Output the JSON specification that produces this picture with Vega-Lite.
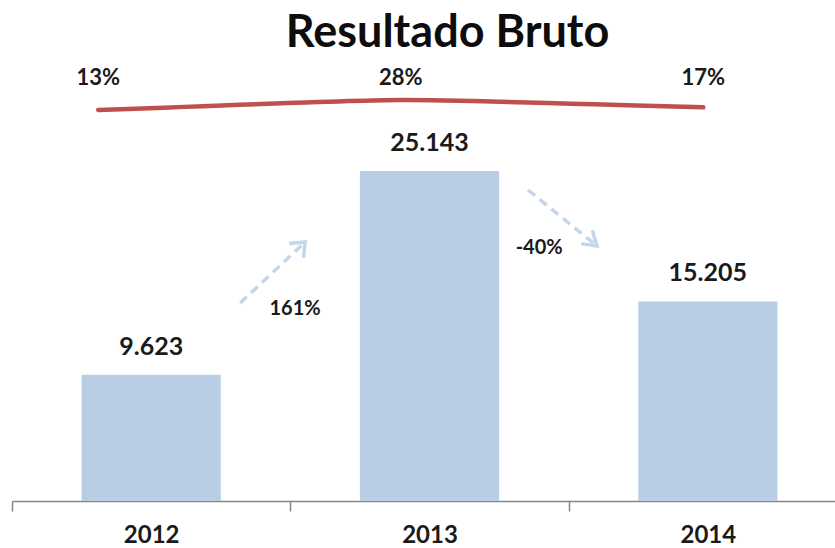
{
  "$schema": "https://vega.github.io/schema/vega-lite/v6.json",
  "width": 835,
  "height": 441,
  "autosize": {"type": "none"},
  "padding": {"left": 12, "top": 60, "right": 0, "bottom": 47},
  "title": {"text": "Resultado Bruto", "fontSize": 45, "font": "Lato", "fontWeight": "bold", "color": "#0d0d0d", "anchor": "middle", "frame": "group", "dx": 18, "offset": 4},
  "config": {
    "view": {"stroke": null},
    "font": "Lato",
    "locale": {"number": {"decimal": ",", "thousands": ".", "grouping": [3], "currency": ["R$ ", ""], "minus": "-"}}
  },
  "datasets": {
    "resultado": [
      {"ano": "2012", "valor": 9623},
      {"ano": "2013", "valor": 25143},
      {"ano": "2014", "valor": 15205}
    ],
    "margem": [
      {"ano": "2012", "margem": 0.13},
      {"ano": "2013", "margem": 0.28},
      {"ano": "2014", "margem": 0.17}
    ],
    "setas": [
      {"seta": "2012-2013", "ponto": "inicio", "ano": 2012.32, "valor": 15085},
      {"seta": "2012-2013", "ponto": "fim", "ano": 2012.553, "valor": 19733},
      {"seta": "2013-2014", "ponto": "inicio", "ano": 2013.354, "valor": 23695},
      {"seta": "2013-2014", "ponto": "fim", "ano": 2013.602, "valor": 19428}
    ],
    "crescimento": [
      {"ano": 2012.517, "valor": 14630, "variacao": 1.61},
      {"ano": 2013.394, "valor": 19276, "variacao": -0.40}
    ]
  },
  "layer": [
    {
      "data": {"name": "resultado"},
      "encoding": {
        "x": {
          "field": "ano", "type": "nominal",
          "scale": {"paddingInner": 0, "paddingOuter": 0},
          "axis": {
            "title": null, "labelAngle": 0, "tickBand": "extent",
            "domainColor": "#868686", "domainWidth": 1.5,
            "tickColor": "#868686", "tickWidth": 1.5, "tickSize": 10,
            "labelFontSize": 24, "labelFontWeight": "bold", "labelColor": "#1a1a1a",
            "labelFont": "Lato", "labelPadding": 12, "grid": false
          }
        },
        "y": {"field": "valor", "type": "quantitative", "scale": {"domain": [0, 33600]}, "axis": null}
      },
      "layer": [
        {"mark": {"type": "bar", "color": "#b9cde5", "width": {"band": 0.5}}},
        {
          "mark": {"type": "text", "baseline": "alphabetic", "dy": -20, "fontSize": 25, "fontWeight": "bold", "color": "#1a1a1a", "font": "Lato"},
          "encoding": {"text": {"field": "valor", "type": "quantitative", "format": ",d"}}
        }
      ]
    },
    {
      "encoding": {
        "x": {"field": "ano", "type": "quantitative", "scale": {"domain": [2011.5, 2014.5], "nice": false, "zero": false}, "axis": null},
        "y": {"field": "valor", "type": "quantitative", "scale": {"domain": [0, 33600]}, "axis": null}
      },
      "layer": [
        {
          "data": {"name": "setas"},
          "mark": {"type": "line", "color": "#c5d6eb", "strokeWidth": 3.5, "strokeDash": [9, 6]},
          "encoding": {"detail": {"field": "seta"}}
        },
        {
          "data": {"name": "setas"},
          "transform": [{"filter": "datum.ponto == 'fim'"}],
          "mark": {"type": "point", "filled": false, "color": "#c5d6eb", "strokeWidth": 3.5, "size": 1000, "opacity": 1},
          "encoding": {
            "shape": {"field": "seta", "type": "nominal", "scale": {"domain": ["2012-2013", "2013-2014"], "range": ["M-1,0.1L0,0L-0.1,1", "M-1,-0.15L0,0L-0.3,-1"]}, "legend": null}
          }
        },
        {
          "data": {"name": "crescimento"},
          "mark": {"type": "text", "fontSize": 20, "fontWeight": "bold", "color": "#1a1a1a", "font": "Lato"},
          "encoding": {"text": {"field": "variacao", "type": "quantitative", "format": ".0%"}}
        }
      ]
    },
    {
      "data": {"name": "margem"},
      "encoding": {
        "x": {"field": "ano", "type": "ordinal", "scale": {"type": "point", "padding": 0.38, "align": 0.375}, "axis": null}
      },
      "layer": [
        {
          "mark": {"type": "line", "color": "#c0504d", "strokeWidth": 4.5, "interpolate": "cardinal", "tension": 0.5, "strokeCap": "round"},
          "encoding": {"y": {"field": "margem", "type": "quantitative", "scale": {"domain": [-5.732, 0.88], "zero": false, "nice": false}, "axis": null}}
        },
        {
          "mark": {"type": "text", "fontSize": 22, "fontWeight": "bold", "color": "#1a1a1a", "font": "Lato", "baseline": "middle"},
          "encoding": {
            "y": {"datum": 0.61, "type": "quantitative", "scale": {"domain": [-5.732, 0.88], "zero": false, "nice": false}, "axis": null},
            "text": {"field": "margem", "type": "quantitative", "format": ".0%"}
          }
        }
      ]
    }
  ],
  "resolve": {"scale": {"x": "independent", "y": "independent"}}
}
